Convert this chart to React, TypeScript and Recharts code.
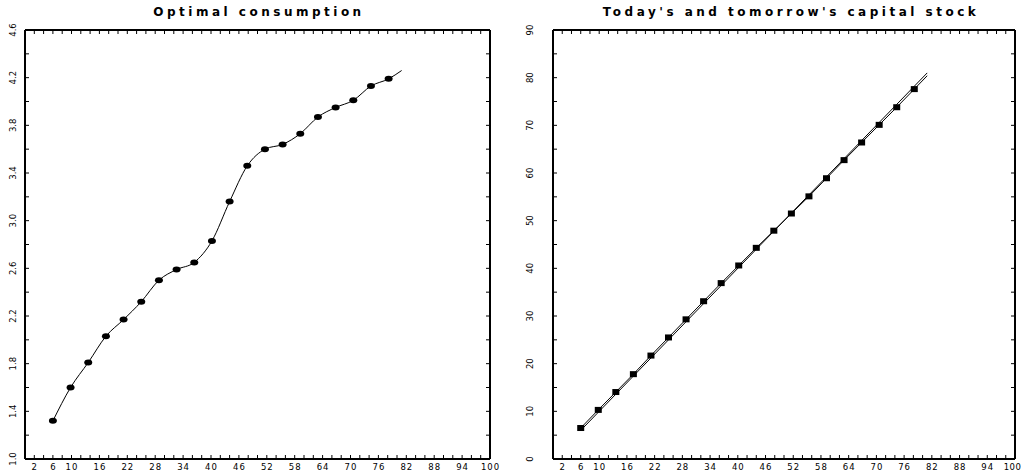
import { LineChart, Line, XAxis, YAxis } from 'recharts';

// capital grid (x axis), last point only closes the curve (no marker)
const capitalGrid = [6.0, 9.8, 13.6, 17.4, 21.2, 25.0, 28.8, 32.6, 36.4, 40.2, 44.0, 47.8, 51.6, 55.4, 59.2, 63.0, 66.8, 70.6, 74.4, 78.2, 81.0];
const consumption = [1.32, 1.60, 1.81, 2.03, 2.17, 2.32, 2.50, 2.59, 2.65, 2.83, 3.16, 3.46, 3.60, 3.64, 3.73, 3.87, 3.95, 4.01, 4.13, 4.19, 4.26];
const capitalToday = [6.0, 9.8, 13.6, 17.4, 21.2, 25.0, 28.8, 32.6, 36.4, 40.2, 44.0, 47.8, 51.6, 55.4, 59.2, 63.0, 66.8, 70.6, 74.4, 78.2, 81.0];
const capitalTomorrow = [6.5, 10.3, 14.05, 17.8, 21.7, 25.5, 29.3, 33.1, 36.9, 40.6, 44.3, 47.9, 51.5, 55.1, 58.9, 62.7, 66.4, 70.1, 73.8, 77.6, 80.4];

const xTickValues = [2, 6, 10, 16, 22, 28, 34, 40, 46, 52, 58, 64, 70, 76, 82, 88, 94, 100];
const xMinorTicks = [0, 2, 4, 6, 8, 10, 12, 14, 16, 18, 20, 22, 24, 26, 28, 30, 32, 34, 36, 38, 40, 42, 44, 46, 48, 50,
  52, 54, 56, 58, 60, 62, 64, 66, 68, 70, 72, 74, 76, 78, 80, 82, 84, 86, 88, 90, 92, 94, 96, 98, 100];
const consumptionTicks = [1.0, 1.4, 1.8, 2.2, 2.6, 3.0, 3.4, 3.8, 4.2, 4.6];
const consumptionMinorTicks = [1.0, 1.2, 1.4, 1.6, 1.8, 2.0, 2.2, 2.4, 2.6, 2.8, 3.0, 3.2, 3.4, 3.6, 3.8, 4.0, 4.2, 4.4, 4.6];
const capitalTicks = [0, 10, 20, 30, 40, 50, 60, 70, 80, 90];
const capitalMinorTicks = [0, 5, 10, 15, 20, 25, 30, 35, 40, 45, 50, 55, 60, 65, 70, 75, 80, 85, 90];

const rows = capitalGrid.map((k, i) => ({
  k,
  c: consumption[i],
  today: capitalToday[i],
  tomorrow: capitalTomorrow[i],
}));

const lastIndex = capitalGrid.length - 1;
const labelFont = 'DejaVu Sans';

// lastShift pulls the final "100" label in when it would hit the page edge
const makeBottomLabel = (lastShift: number) => (props: any) => {
  const { x, y, payload } = props;
  const isLast = payload.value === 100;
  return (
    <text x={x + 0.5 - (isLast ? lastShift : 0)} y={y + 11} textAnchor="middle" fontFamily={labelFont} fontSize={8.5}
      letterSpacing={isLast && lastShift ? 0.4 : 1} fill="#000">
      {payload.value}
    </text>
  );
};

const makeLeftLabel = (offset: number, digits: number) => (props: any) => {
  const { x, y, payload } = props;
  const tx = x - offset;
  return (
    <text x={tx} y={y} transform={`rotate(-90 ${tx} ${y})`} textAnchor="middle" fontFamily={labelFont} fontSize={8.5} fill="#000">
      {Number(payload.value).toFixed(digits)}
    </text>
  );
};

const NoLabel = (props: any) => <g key={`nl-${props.index}`} />;

const RoundDot = (props: any) => {
  const { cx, cy, index } = props;
  if (index === lastIndex) return <g key={`rd-${index}`} />;
  return <ellipse key={`rd-${index}`} cx={cx} cy={cy} rx={4} ry={3} fill="#000" />;
};

const SquareDot = (props: any) => {
  const { cx, cy, index } = props;
  if (index === lastIndex) return <g key={`sd-${index}`} />;
  return <rect key={`sd-${index}`} x={cx - 3.5} y={cy - 3} width={7} height={6} fill="#000" />;
};

const frameLine = { stroke: '#000', strokeWidth: 2 };
const minorTick = { stroke: '#000', strokeWidth: 1 };

function frameAxes(yDomain: number[], yMinor: number[]) {
  return [
    <XAxis key="bm" xAxisId="bottomMinor" orientation="bottom" mirror dataKey="k" type="number" domain={[0, 100]}
      allowDataOverflow ticks={xMinorTicks} interval={0} tick={NoLabel} tickSize={4} axisLine={frameLine} tickLine={minorTick} />,
    <XAxis key="tm" xAxisId="topMinor" orientation="top" mirror dataKey="k" type="number" domain={[0, 100]}
      allowDataOverflow ticks={xMinorTicks} interval={0} tick={NoLabel} tickSize={4} axisLine={frameLine} tickLine={minorTick} />,
    <YAxis key="lm" yAxisId="leftMinor" orientation="left" mirror type="number" domain={yDomain}
      allowDataOverflow ticks={yMinor} interval={0} tick={NoLabel} tickSize={4} axisLine={frameLine} tickLine={minorTick} />,
    <YAxis key="rm" yAxisId="rightMinor" orientation="right" mirror type="number" domain={yDomain}
      allowDataOverflow ticks={yMinor} interval={0} tick={NoLabel} tickSize={4} axisLine={frameLine} tickLine={minorTick} />,
  ];
}

const titleStyle = {
  position: 'absolute' as const,
  top: 3,
  width: 440,
  textAlign: 'center' as const,
  fontFamily: 'DejaVu Sans',
  fontWeight: 'bold' as const,
  fontSize: 12,
  letterSpacing: 3.5,
  lineHeight: '18px',
  color: '#000',
  whiteSpace: 'nowrap' as const,
};

export default function App() {
  return (
    <div style={{ position: 'absolute', left: 0, top: 0, width: 1023, height: 472, background: '#fff', overflow: 'hidden' }}>
      <div style={{ position: 'absolute', left: 0, top: 0 }}>
        <LineChart width={500} height={472} data={rows} margin={{ top: 30, right: 10, bottom: 0, left: 0 }}>
          <XAxis xAxisId="main" dataKey="k" type="number" domain={[0, 100]} allowDataOverflow ticks={xTickValues}
            interval={0} tickLine={false} axisLine={false} tickSize={0} tickMargin={0} height={13} tick={makeBottomLabel(0)} />
          <YAxis yAxisId="main" type="number" domain={[1.0, 4.6]} allowDataOverflow ticks={consumptionTicks} interval={0}
            tickLine={false} axisLine={false} tickSize={0} tickMargin={0} width={25} tick={makeLeftLabel(9, 1)} />
          {frameAxes([1.0, 4.6], consumptionMinorTicks)}
          <Line xAxisId="main" yAxisId="main" type="monotone" dataKey="c" stroke="#000" strokeWidth={1}
            dot={RoundDot} activeDot={false} isAnimationActive={false} />
        </LineChart>
      </div>
      <div style={{ position: 'absolute', left: 500, top: 0 }}>
        <LineChart width={523} height={472} data={rows} margin={{ top: 30, right: 8, bottom: 0, left: 0 }}>
          <XAxis xAxisId="main" dataKey="k" type="number" domain={[0, 100]} allowDataOverflow ticks={xTickValues}
            interval={0} tickLine={false} axisLine={false} tickSize={0} tickMargin={0} height={13} tick={makeBottomLabel(3)} />
          <YAxis yAxisId="main" type="number" domain={[0, 90]} allowDataOverflow ticks={capitalTicks} interval={0}
            tickLine={false} axisLine={false} tickSize={0} tickMargin={0} width={53} tick={makeLeftLabel(20, 0)} />
          {frameAxes([0, 90], capitalMinorTicks)}
          <Line xAxisId="main" yAxisId="main" type="linear" dataKey="today" stroke="#000" strokeWidth={1}
            dot={false} activeDot={false} isAnimationActive={false} />
          <Line xAxisId="main" yAxisId="main" type="linear" dataKey="tomorrow" stroke="#000" strokeWidth={1}
            dot={SquareDot} activeDot={false} isAnimationActive={false} />
        </LineChart>
      </div>
      <div style={{ ...titleStyle, left: 259 - 220 }}>Optimal consumption</div>
      <div style={{ ...titleStyle, left: 791 - 220 }}>Today's and tomorrow's capital stock</div>
    </div>
  );
}
